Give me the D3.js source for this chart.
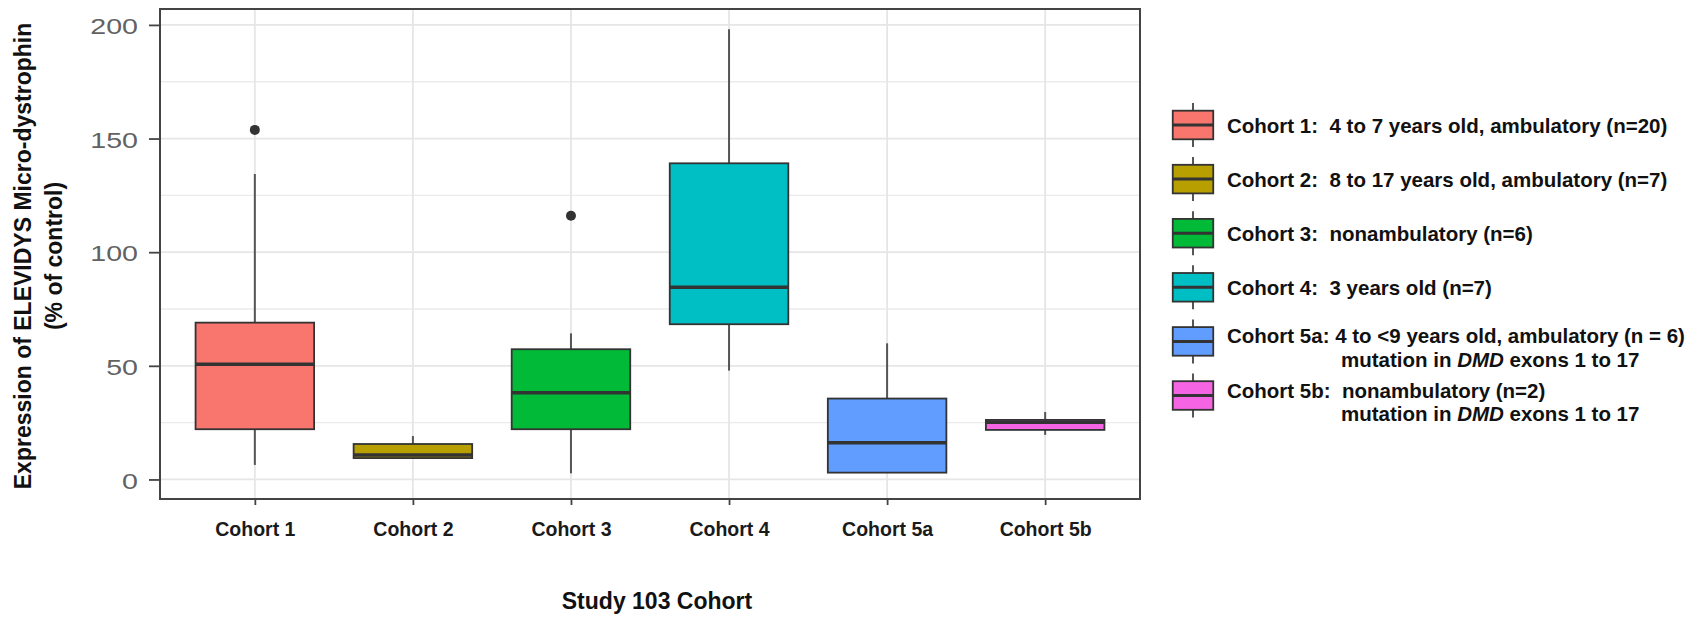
<!DOCTYPE html>
<html>
<head>
<meta charset="utf-8">
<script src="https://cdn.jsdelivr.net/npm/d3@7"></script>
<style>
  body { margin: 0; background: #ffffff; }
  #box { width: 1698px; height: 620px; }
  text { font-family: "Liberation Sans", Arial, sans-serif; }
</style>
</head>
<body>
<div id="box"></div>
<script>
// data
const cohorts = ['Cohort 1', 'Cohort 2', 'Cohort 3', 'Cohort 4', 'Cohort 5a', 'Cohort 5b'];
const whiskerLow = [6.4, 9.3, 2.7, 47.9, 3.0, 19.6];
const q1 = [22.1, 9.4, 22.1, 68.3, 3.0, 21.8];
const medians = [50.7, 10.8, 38.2, 84.6, 16.2, 25.2];
const q3 = [69.0, 15.6, 57.3, 139.1, 35.6, 26.2];
const whiskerHigh = [134.4, 19.1, 64.3, 198.1, 59.9, 29.7];
const outliers = [[153.8], [], [116.0], [], [], []];
const colors = ['#F8766D', '#B79F00', '#00BA38', '#00BFC4', '#619CFF', '#F564E3'];
const yTicks = [0, 50, 100, 150, 200];
const yMinorTicks = [25, 75, 125, 175];
const legendLines = [
  'Cohort 1:  4 to 7 years old, ambulatory (n=20)',
  'Cohort 2:  8 to 17 years old, ambulatory (n=7)',
  'Cohort 3:  nonambulatory (n=6)',
  'Cohort 4:  3 years old (n=7)',
  'Cohort 5a: 4 to <9 years old, ambulatory (n = 6)',
  'Cohort 5b:  nonambulatory (n=2)'
];
const legendSecond = [null, null, null, null, ['mutation in ', 'DMD', ' exons 1 to 17'], ['mutation in ', 'DMD', ' exons 1 to 17']];

const width = 1698;
const height = 620;
const padLeft = 160;
const panelRight = 1140;
const padTop = 9;
const panelBottom = 499;

const data = cohorts.map((c, i) => ({
  name: c, lo: whiskerLow[i], q1: q1[i], med: medians[i], q3: q3[i], hi: whiskerHigh[i],
  out: outliers[i], color: colors[i]
}));

const svg = d3.select('#box').append('svg')
  .attr('width', width)
  .attr('height', height);

const x = d3.scalePoint()
  .domain(cohorts)
  .range([padLeft, panelRight])
  .padding(0.6);

const y = d3.scaleLinear()
  .domain([-8.6, 207])
  .range([panelBottom, padTop]);

const boxW = x.step() * 0.75;

// grid
const grid = svg.append('g');
grid.selectAll('.minor').data(yMinorTicks)
  .join('line')
  .attr('x1', padLeft).attr('x2', panelRight)
  .attr('y1', d => y(d)).attr('y2', d => y(d))
  .style('stroke', '#ebebeb').style('stroke-width', 1.3);
grid.selectAll('.major').data(yTicks)
  .join('line')
  .attr('x1', padLeft).attr('x2', panelRight)
  .attr('y1', d => y(d)).attr('y2', d => y(d))
  .style('stroke', '#e6e6e6').style('stroke-width', 1.8);
grid.selectAll('.vert').data(cohorts)
  .join('line')
  .attr('x1', d => x(d)).attr('x2', d => x(d))
  .attr('y1', padTop).attr('y2', panelBottom)
  .style('stroke', '#e6e6e6').style('stroke-width', 1.8);

// boxes
const boxes = svg.append('g').selectAll('g').data(data)
  .join('g');

boxes.append('line')
  .attr('x1', d => x(d.name)).attr('x2', d => x(d.name))
  .attr('y1', d => y(d.hi)).attr('y2', d => y(d.q3))
  .style('stroke', '#555').style('stroke-width', 2);
boxes.append('line')
  .attr('x1', d => x(d.name)).attr('x2', d => x(d.name))
  .attr('y1', d => y(d.q1)).attr('y2', d => y(d.lo))
  .style('stroke', '#555').style('stroke-width', 2);
boxes.append('rect')
  .attr('x', d => x(d.name) - boxW / 2)
  .attr('width', boxW)
  .attr('y', d => y(d.q3))
  .attr('height', d => y(d.q1) - y(d.q3))
  .style('fill', d => d.color)
  .style('stroke', '#333').style('stroke-width', 1.8);
boxes.append('line')
  .attr('x1', d => x(d.name) - boxW / 2).attr('x2', d => x(d.name) + boxW / 2)
  .attr('y1', d => y(d.med)).attr('y2', d => y(d.med))
  .style('stroke', '#333').style('stroke-width', 3.5);
boxes.selectAll('circle').data(d => d.out.map(v => ({ name: d.name, v })))
  .join('circle')
  .attr('cx', d => x(d.name))
  .attr('cy', d => y(d.v))
  .attr('r', 5)
  .style('fill', '#333');

// panel border
svg.append('rect')
  .attr('x', padLeft).attr('y', padTop)
  .attr('width', panelRight - padLeft)
  .attr('height', panelBottom - padTop)
  .style('fill', 'none')
  .style('stroke', '#444').style('stroke-width', 2);

// axes
const yStretch = 1.3;
const yAxis = svg.append('g')
  .attr('transform', `translate(${padLeft},0)`)
  .call(d3.axisLeft(y).tickValues(yTicks).tickSize(11).tickFormat(d3.format('d')));
yAxis.select('.domain').remove();
yAxis.selectAll('line').style('stroke', '#444').style('stroke-width', 1.8);
yAxis.selectAll('text')
  .attr('x', -22 / yStretch)
  .attr('dy', '0.4em')
  .attr('transform', `scale(${yStretch},1)`)
  .style('font-size', '22px')
  .style('fill', '#626262');

const xAxis = svg.append('g')
  .attr('transform', `translate(0,${panelBottom})`)
  .call(d3.axisBottom(x).tickSize(6).tickPadding(17));
xAxis.select('.domain').remove();
xAxis.selectAll('line').style('stroke', '#444').style('stroke-width', 1.8);
xAxis.selectAll('text')
  .style('font-size', '19.5px')
  .style('font-weight', 'bold')
  .style('fill', '#1a1a1a');

// axis titles
svg.append('text')
  .attr('x', 657).attr('y', 609)
  .attr('text-anchor', 'middle')
  .style('font-size', '23px').style('font-weight', 'bold').style('fill', '#111')
  .text('Study 103 Cohort');

const yTitle = ['Expression of ELEVIDYS Micro-dystrophin', '(% of control)'];
svg.selectAll('.ytitle').data(yTitle)
  .join('text')
  .attr('class', 'ytitle')
  .attr('transform', (d, i) => `translate(${31 + i * 31},256) rotate(-90)`)
  .attr('text-anchor', 'middle')
  .style('font-size', '23px').style('font-weight', 'bold').style('fill', '#111')
  .text(d => d);

// legend
const legX = 1193;
const legY = 125;
const legStep = 54.1;
const keyW = 40.5;
const keyH = 28.6;
const leg = svg.append('g').selectAll('g').data(data)
  .join('g')
  .attr('transform', (d, i) => `translate(${legX},${legY + i * legStep})`);

leg.append('line')
  .attr('y1', -22).attr('y2', 22)
  .style('stroke', '#555').style('stroke-width', 2);
leg.append('rect')
  .attr('x', -keyW / 2).attr('y', -keyH / 2)
  .attr('width', keyW).attr('height', keyH)
  .style('fill', d => d.color)
  .style('stroke', '#333').style('stroke-width', 1.8);
leg.append('line')
  .attr('x1', -keyW / 2).attr('x2', keyW / 2)
  .style('stroke', '#333').style('stroke-width', 3);

const legText = leg.append('text')
  .attr('x', 34)
  .attr('y', (d, i) => legendSecond[i] ? 2 : 7.5)
  .attr('xml:space', 'preserve')
  .style('white-space', 'pre')
  .style('font-size', '20.5px').style('font-weight', 'bold').style('fill', '#111');

legText.append('tspan').text((d, i) => legendLines[i]);

legText.each(function (d, i) {
  if (!legendSecond[i]) return;
  const t = d3.select(this);
  legendSecond[i].forEach((part, k) => {
    const ts = t.append('tspan').text(part);
    if (k === 0) ts.attr('x', 148).attr('dy', 23.5);
    if (part === 'DMD') ts.style('font-style', 'italic');
  });
});
</script>
</body>
</html>
